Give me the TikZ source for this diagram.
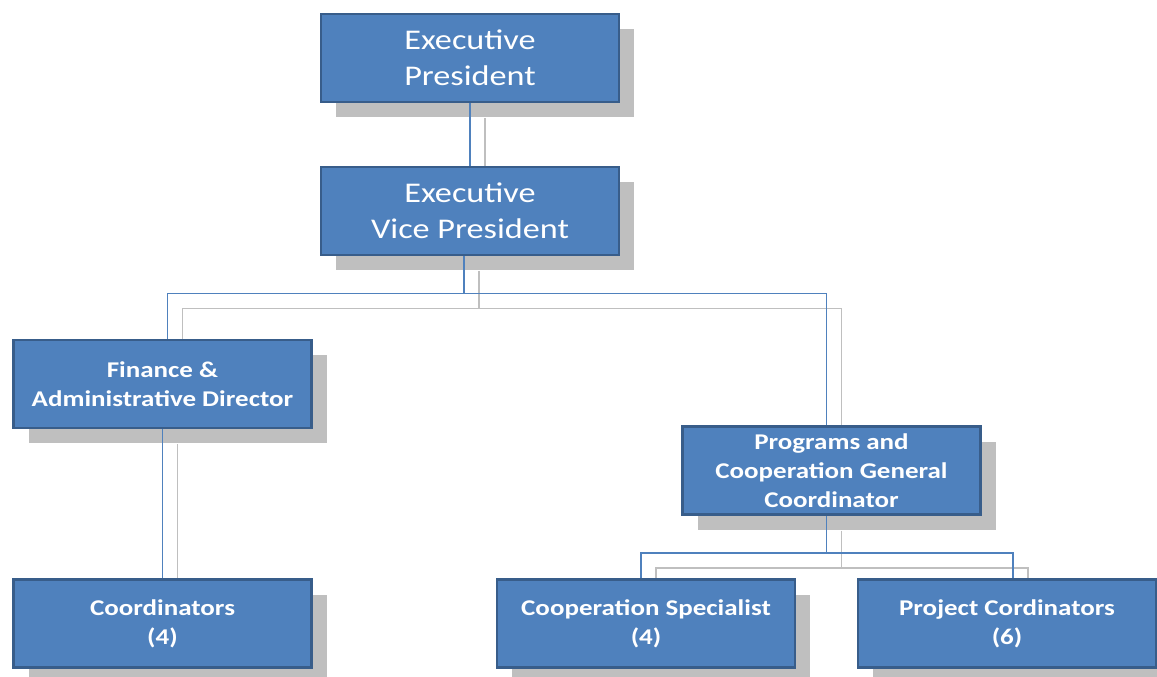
\documentclass[tikz,border=0pt]{standalone}
\usepackage{fontspec}
\setmainfont{Carlito}
\newfontfamily\postfont[FakeStretch=1.2]{Carlito}
\usetikzlibrary{shadows,backgrounds}

\definecolor{boxblue}{HTML}{4F81BD}
\definecolor{boxedge}{HTML}{385D8A}
\definecolor{shadegray}{HTML}{BFBFBF}

\begin{document}
\begin{tikzpicture}[x=1pt,y=-1pt,
    post/.style={draw=boxedge,line width=2.5pt,fill=boxblue,text=white,
        minimum width=298pt,minimum height=88pt,inner sep=0pt,align=center,
        drop shadow={shadow xshift=15pt,shadow yshift=-15pt,fill=shadegray,opacity=1}},
    bigpost/.style={post,font=\postfont\fontsize{28.5}{36}\selectfont},
    smallpost/.style={post,font=\postfont\bfseries\fontsize{22.5}{29}\selectfont},
    link/.style={draw=boxblue,line width=1.5pt},
    linkshade/.style={draw=shadegray,line width=1.5pt}]

\useasboundingbox (0,0) rectangle (1157,677);

\node[bigpost] (ep) at (470,58) {Executive\\President};
\node[bigpost] (evp) at (470,211) {Executive\\Vice President};

\node[smallpost] (fad) at (162.5,384) {Finance \&\\Administrative Director};
\node[smallpost] (pgc) at (831.5,470.5) {Programs and\\Cooperation General\\Coordinator};

\node[smallpost] (coo) at (162.5,623.5) {Coordinators\\(4)};
\node[smallpost] (cs) at (646,623.5) {Cooperation Specialist\\(4)};
\node[smallpost] (pc) at (1007,623.5) {Project Cordinators\\(6)};

% grey copies of the lines, behind everything
\begin{scope}[on background layer]
    \fill[white] (0,0) rectangle (1157,677);
    \begin{scope}[transform canvas={shift={(15pt,-15pt)}}]
        \draw[linkshade] (ep) -- (evp);
        \draw[linkshade] ([xshift=-6pt]evp.south) -- ++(0,37) coordinate (vpshade) -| ([xshift=5pt]fad.north);
        \draw[linkshade] (vpshade) -| ([xshift=-5pt]pgc.north);
        \draw[linkshade] (fad) -- (coo);
        \draw[linkshade] ([xshift=-5pt]pgc.south) -- ++(0,37) coordinate (pgshade) -| ([xshift=-5pt]cs.north);
        \draw[linkshade] (pgshade) -| ([xshift=6pt]pc.north);
    \end{scope}
\end{scope}

\draw[link] (ep) -- (evp);
\draw[link] ([xshift=-6pt]evp.south) -- ++(0,37) coordinate (vpfork) -| ([xshift=5pt]fad.north);
\draw[link] (vpfork) -| ([xshift=-5pt]pgc.north);
\draw[link] (fad) -- (coo);
\draw[link] ([xshift=-5pt]pgc.south) -- ++(0,37) coordinate (pgfork) -| ([xshift=-5pt]cs.north);
\draw[link] (pgfork) -| ([xshift=6pt]pc.north);

\end{tikzpicture}
\end{document}
